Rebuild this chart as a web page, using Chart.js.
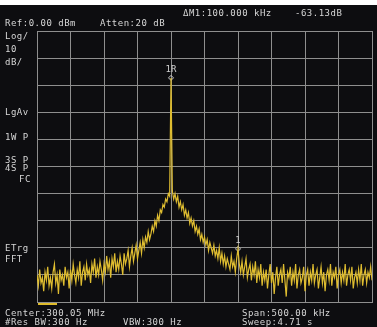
<!DOCTYPE html>
<html lang="en">
<head>
  <meta charset="UTF-8">
  <title>Spectrum</title>
  <script src="https://cdn.jsdelivr.net/npm/chart.js"></script>
  <style>
    html, body {
      margin: 0;
      padding: 0;
      background: #0d0d10;
      width: 377px;
      height: 327px;
      overflow: hidden;
    }
    #wrap {
      position: relative;
      width: 377px;
      height: 327px;
    }
    #topband {
      position: absolute;
      left: 0; top: 0;
      width: 377px; height: 5px;
      background: #fff;
    }
    canvas { position: absolute; left: 0; top: 0; }
    .t {
      position: absolute;
      font-family: 'DejaVu Sans Mono', monospace;
      font-size: 9px;
      line-height: 9px;
      letter-spacing: 0.5px;
      color: #d6d6d6;
      white-space: pre;
    }
    #ybar {
      position: absolute;
      left: 38px; top: 303px;
      width: 19px; height: 2px;
      background: #e0bc2c;
    }
  </style>
</head>
<body>
  <div id="wrap">
    <canvas id="sa" width="377" height="327"></canvas>
    <div id="topband"></div>
    <div class="t" style="left:183px;top:9px">ΔM1:100.000 kHz</div>
    <div class="t" style="left:295px;top:9px">-63.13dB</div>
    <div class="t" style="left:5px;top:19px">Ref:0.00 dBm</div>
    <div class="t" style="left:100px;top:19px">Atten:20 dB</div>
    <div class="t" style="left:5px;top:32px">Log/</div>
    <div class="t" style="left:5px;top:45px">10</div>
    <div class="t" style="left:5px;top:58px">dB/</div>
    <div class="t" style="left:5px;top:108px">LgAv</div>
    <div class="t" style="left:5px;top:133px">1W P</div>
    <div class="t" style="left:5px;top:156px">3S P</div>
    <div class="t" style="left:5px;top:164px">4S P</div>
    <div class="t" style="left:19px;top:175px">FC</div>
    <div class="t" style="left:5px;top:244px">ETrg</div>
    <div class="t" style="left:5px;top:255px">FFT</div>
    <div class="t" style="left:5px;top:309px">Center:300.05 MHz</div>
    <div class="t" style="left:242px;top:309px">Span:500.00 kHz</div>
    <div class="t" style="left:5px;top:318px">#Res BW:300 Hz</div>
    <div class="t" style="left:123px;top:318px">VBW:300 Hz</div>
    <div class="t" style="left:242px;top:318px">Sweep:4.71 s</div>
    <div id="ybar"></div>
  </div>

  <script>
    // sweep: offset from center in kHz, 251 points across the 500 kHz span
    const startKHz = -250;
    const stopKHz = 250;
    const refLevel = 0;
    const bottomLevel = -100;

    // trace levels in dBm
    const traceDbm = [
      -90, -94, -88, -93, -91, -96, -89, -92, -87, -94,
      -91, -95, -89, -86, -93, -90, -97, -88, -92, -90,
      -94, -87, -91, -89, -95, -88, -92, -86, -90, -93,
      -88, -91, -85, -94, -89, -87, -92, -86, -90, -88,
      -93, -86, -89, -84, -91, -87, -90, -85, -88, -92,
      -86, -89, -83, -88, -85, -91, -84, -87, -82, -89,
      -85, -88, -83, -86, -90, -82, -86, -84, -81, -87,
      -83, -80, -85, -82, -79, -84, -81, -78, -82, -77,
      -80, -76, -78, -74, -77, -75, -72, -74, -70, -72,
      -68, -70, -66, -67, -64, -65, -62, -63, -60, -61,
      -17.3,
      -59, -62, -60, -63, -61, -65, -63, -66, -64, -68,
      -66, -69, -67, -71, -69, -72, -70, -74, -72, -75,
      -73, -77, -75, -78, -76, -79, -77, -81, -78, -80,
      -82, -79, -83, -81, -84, -80, -85, -82, -86, -83,
      -87, -84, -86, -88, -83, -87, -85, -89, -84,
      -80.4,
      -86, -89, -85, -90, -87, -84, -91, -88, -86, -92,
      -87, -90, -85, -93, -88, -91, -86, -94, -89, -92,
      -88, -95, -90, -86, -93, -89, -97, -91, -87, -94,
      -90, -88, -93, -86, -92, -98, -89, -91, -87, -94,
      -89, -92, -86, -95, -90, -88, -93, -91, -87, -96,
      -90, -88, -94, -89, -92, -86, -93, -90, -88, -95,
      -91, -87, -93, -89, -96, -90, -88, -92, -86, -94,
      -89, -91, -87, -95, -90, -88, -93, -89, -92, -86,
      -94, -90, -88, -92, -87, -95, -91, -89, -93, -88,
      -92, -86, -94, -90, -88, -93, -89, -91, -87, -92
    ];

    const markerKHz = [-50, 50];
    const markerDbm = [-17.3, -80.4];
    const markerNames = ['1R', '1'];

    const stepKHz = (stopKHz - startKHz) / (traceDbm.length - 1);
    const tracePts = traceDbm.map((v, i) => ({ x: startKHz + i * stepKHz, y: v }));
    const markerPts = markerKHz.map((f, i) => ({ x: f, y: markerDbm[i] }));

    const gridColor = '#8e8e8e';

    const markerLabels = {
      id: 'markerLabels',
      afterDatasetsDraw(chart) {
        const { ctx, scales } = chart;
        ctx.save();
        ctx.font = '9px "DejaVu Sans Mono", monospace';
        ctx.fillStyle = '#cfcfcf';
        ctx.textAlign = 'center';
        ctx.textBaseline = 'bottom';
        markerPts.forEach((p, i) => {
          const px = scales.x.getPixelForValue(p.x);
          const py = scales.y.getPixelForValue(p.y);
          ctx.fillText(markerNames[i], px, py - 4);
        });
        ctx.restore();
      }
    };

    new Chart(document.getElementById('sa'), {
      type: 'line',
      data: {
        datasets: [
          {
            data: tracePts,
            borderColor: '#dfbd30',
            borderWidth: 1.2,
            pointRadius: 0,
            tension: 0
          },
          {
            type: 'scatter',
            data: markerPts,
            pointStyle: 'rectRot',
            pointRadius: 2.5,
            borderColor: '#cfcfcf',
            backgroundColor: 'rgba(0,0,0,0)',
            borderWidth: 1
          }
        ]
      },
      options: {
        responsive: false,
        animation: false,
        layout: { padding: { left: 37, top: 31, right: 1, bottom: 25 } },
        plugins: {
          legend: { display: false },
          tooltip: { enabled: false }
        },
        scales: {
          x: {
            type: 'linear',
            min: startKHz,
            max: stopKHz,
            ticks: { display: false, stepSize: 50 },
            grid: { color: gridColor, drawTicks: false, lineWidth: 1 },
            border: { color: gridColor }
          },
          y: {
            min: bottomLevel,
            max: refLevel,
            ticks: { display: false, stepSize: 10 },
            grid: { color: gridColor, drawTicks: false, lineWidth: 1 },
            border: { color: gridColor }
          }
        }
      },
      plugins: [markerLabels]
    });
  </script>
</body>
</html>
